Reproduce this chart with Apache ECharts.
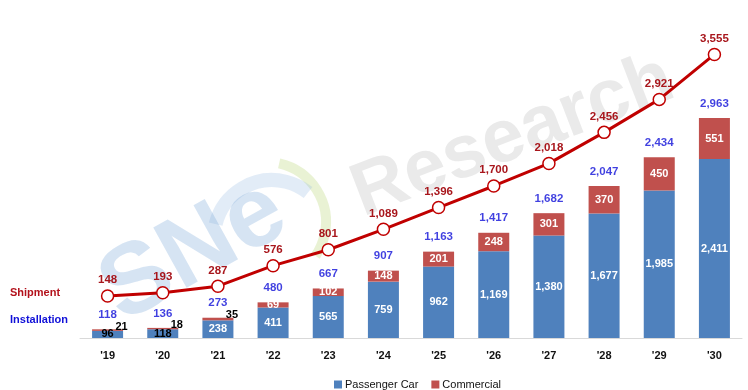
<!DOCTYPE html>
<html>
<head>
<meta charset="utf-8">
<script src="https://cdn.jsdelivr.net/npm/echarts@6/dist/echarts.min.js"></script>
<style>html,body{margin:0;padding:0;background:#fff;}#c{width:748px;height:390px;}</style>
</head>
<body>
<div id="c"></div>
<script>
var categories = ["'19","'20","'21","'22","'23","'24","'25","'26","'27","'28","'29","'30"];
var passenger = [96,118,238,411,565,759,962,1169,1380,1677,1985,2411];
var commercial = [21,18,35,69,102,148,201,248,301,370,450,551];
var installation = [118,136,273,480,667,907,1163,1417,1682,2047,2434,2963];
var shipment = [148,193,287,576,801,1089,1396,1700,2018,2456,2921,3555];

var FONT = "'Liberation Sans',Arial,sans-serif";
var fmt = function (v) { return Number(v).toLocaleString('en-US'); };

var passData = passenger.map(function (v, i) {
  var d = { value: v };
  if (i < 2) d.label = { color: '#000' };
  return d;
});
var commData = commercial.map(function (v, i) {
  var d = { value: v };
  if (i < 3) d.label = { color: '#000', position: 'top', distance: 0, offset: [14, 3] };
  return d;
});

var chart = echarts.init(document.getElementById('c'));
chart.setOption({
  animation: false,
  backgroundColor: '#fff',
  grid: { left: 80, right: 6, top: 38, bottom: 52 },
  graphic: [
    { type: 'arc', z: 0, shape: { cx: 266, cy: 222, r: 60, startAngle: -1.35, endAngle: 0.6 },
      style: { stroke: 'rgba(175,210,100,0.28)', lineWidth: 10, fill: null } },
    { type: 'arc', z: 0, shape: { cx: 272, cy: 238, r: 58, startAngle: -2.9, endAngle: -0.9 },
      style: { stroke: 'rgba(140,180,225,0.25)', lineWidth: 14, fill: null } },
    { type: 'text', z: 0, x: 194, y: 252, rotation: 29 * Math.PI / 180,
      style: { text: 'SNe', font: "bold 100px 'Liberation Sans',Arial,sans-serif", fill: 'rgba(120,165,215,0.3)', textAlign: 'center', textVerticalAlign: 'middle' } },
    { type: 'text', z: 0, x: 513, y: 137, rotation: 21 * Math.PI / 180,
      style: { text: 'Research', font: "bold 75px 'Liberation Sans',Arial,sans-serif", fill: 'rgba(150,150,150,0.2)', textAlign: 'center', textVerticalAlign: 'middle' } },
    { type: 'text', z: 5, x: 10, y: 293,
      style: { text: 'Shipment', font: "bold 11px " + FONT, fill: '#b3121c', textVerticalAlign: 'middle' } },
    { type: 'text', z: 5, x: 10, y: 320,
      style: { text: 'Installation', font: "bold 11px " + FONT, fill: '#1010d8', textVerticalAlign: 'middle' } }
  ],
  legend: {
    left: 329, top: 374,
    itemWidth: 8, itemHeight: 8, itemGap: 13,
    icon: 'rect',
    data: ['Passenger Car', 'Commercial'],
    textStyle: { fontFamily: FONT, fontSize: 11, color: '#111', padding: [0, 0, 0, -2] }
  },
  xAxis: {
    type: 'category',
    data: categories,
    axisLine: { lineStyle: { color: '#d9d9d9', width: 1 } },
    axisTick: { show: false },
    axisLabel: { color: '#111', fontFamily: FONT, fontWeight: 'bold', fontSize: 11, margin: 12 }
  },
  yAxis: [
    { type: 'value', min: 0, max: 4040, show: false, splitLine: { show: false } },
    { type: 'value', min: -444, max: 3787, show: false, splitLine: { show: false } }
  ],
  series: [
    {
      name: 'Passenger Car', type: 'bar', stack: 'inst', barWidth: 31, z: 3,
      itemStyle: { color: '#4f81bd' },
      label: { show: true, position: 'inside', color: '#fff', fontFamily: FONT, fontWeight: 'bold', fontSize: 11, formatter: function (p) { return fmt(p.value); } },
      data: passData
    },
    {
      name: 'Commercial', type: 'bar', stack: 'inst', barWidth: 31, z: 3,
      itemStyle: { color: '#c0504d' },
      label: { show: true, position: 'inside', color: '#fff', fontFamily: FONT, fontWeight: 'bold', fontSize: 11, formatter: function (p) { return fmt(p.value); } },
      data: commData
    },
    {
      name: 'Installation', type: 'scatter', symbolSize: 1, z: 4,
      itemStyle: { color: 'rgba(0,0,0,0)' },
      label: { show: true, position: 'top', distance: 8, color: '#1010d8', fontFamily: FONT, fontWeight: 'bold', fontSize: 11.5, formatter: function (p) { return fmt(p.value); } },
      data: installation
    },
    {
      name: 'Shipment', type: 'line', yAxisIndex: 1, z: 5,
      symbol: 'circle', symbolSize: 12,
      lineStyle: { color: '#c00000', width: 3 },
      itemStyle: { color: '#fff', borderColor: '#c00000', borderWidth: 1.5 },
      label: { show: true, position: 'top', distance: 3, color: '#a8161c', fontFamily: FONT, fontWeight: 'bold', fontSize: 11.5, formatter: function (p) { return fmt(p.value); } },
      data: shipment
    }
  ]
});
</script>
</body>
</html>
